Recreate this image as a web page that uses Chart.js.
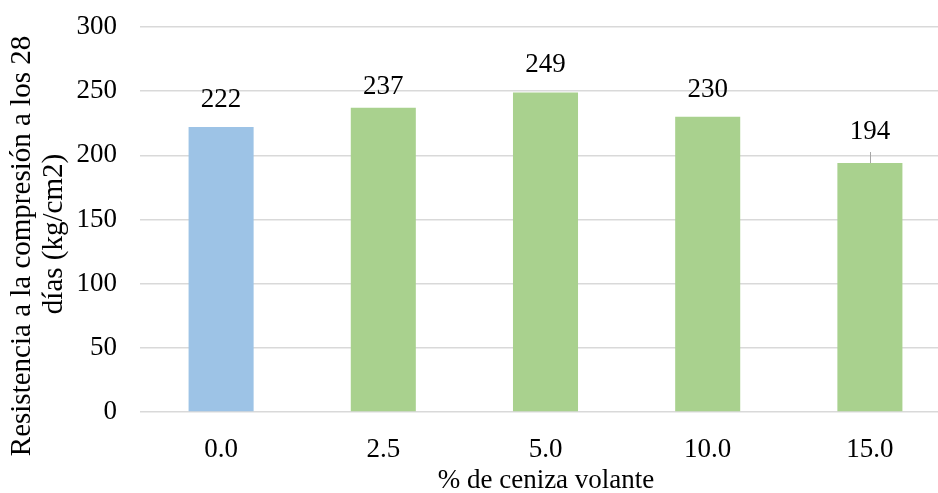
<!DOCTYPE html>
<html>
<head>
<meta charset="utf-8">
<script src="https://cdn.jsdelivr.net/npm/chart.js@4/dist/chart.umd.min.js"></script>
<style>
  html, body { margin: 0; padding: 0; background: #fff; overflow: hidden; }
  #wrap { position: relative; width: 938px; height: 493px; overflow: hidden; }
  canvas { position: absolute; left: 0; top: 0; }
</style>
</head>
<body>
<div id="wrap"><canvas id="c" width="952" height="493"></canvas></div>
<script>
// Compressive strength at 28 days by fly-ash content
const categories = ['0.0', '2.5', '5.0', '10.0', '15.0'];
const strength = [222, 237, 249, 230, 194];
const yTicks = [0, 50, 100, 150, 200, 250, 300];

const xTitle = '% de ceniza volante';
const yTitleLines = ['Resistencia a la compresión a los 28', 'días (kg/cm2)'];

const barColors = ['#9DC3E6', '#A9D18E', '#A9D18E', '#A9D18E', '#A9D18E'];
// distance from bar top to label centre, px
const labelLift = [27, 21, 28, 27, 31];

const FONT = "'Liberation Serif', 'Times New Roman', serif";
const SIZE = 27;
const YTITLE_SIZE = 29;

const valueLabels = {
  id: 'valueLabels',
  afterDatasetsDraw(chart) {
    const { ctx } = chart;
    const meta = chart.getDatasetMeta(0);
    ctx.save();
    ctx.font = SIZE + 'px ' + FONT;
    ctx.fillStyle = '#000';
    ctx.textAlign = 'center';
    ctx.textBaseline = 'middle';
    meta.data.forEach((bar, i) => {
      const cy = bar.y - labelLift[i];
      ctx.fillText(String(strength[i]), bar.x, cy);
      if (labelLift[i] > 29) {
        // leader line from label to bar
        ctx.strokeStyle = '#A6A6A6';
        ctx.lineWidth = 1;
        ctx.beginPath();
        ctx.moveTo(Math.round(bar.x) + 0.5, cy + 20);
        ctx.lineTo(Math.round(bar.x) + 0.5, bar.y);
        ctx.stroke();
      }
    });
    ctx.restore();
  }
};

const axisTitles = {
  id: 'axisTitles',
  afterDraw(chart) {
    const { ctx } = chart;
    ctx.save();
    ctx.fillStyle = '#000';
    ctx.textAlign = 'center';
    ctx.textBaseline = 'middle';
    ctx.font = SIZE + 'px ' + FONT;
    ctx.fillText(xTitle, 546, 481);
    ctx.font = YTITLE_SIZE + 'px ' + FONT;
    const pos = [[22, 246], [54, 234]];
    yTitleLines.forEach((line, i) => {
      ctx.save();
      ctx.translate(pos[i][0], pos[i][1]);
      ctx.rotate(-Math.PI / 2);
      ctx.fillText(line, 0, 0);
      ctx.restore();
    });
    ctx.restore();
  }
};

new Chart(document.getElementById('c'), {
  type: 'bar',
  data: {
    labels: categories,
    datasets: [{
      data: strength,
      backgroundColor: barColors,
      borderWidth: 0,
      barPercentage: 1,
      categoryPercentage: 0.401
    }]
  },
  options: {
    responsive: false,
    animation: false,
    devicePixelRatio: 1,
    layout: { padding: { top: 27, right: 1, left: 0, bottom: 0 } },
    plugins: { legend: { display: false }, tooltip: { enabled: false } },
    scales: {
      x: {
        grid: { display: false },
        border: { display: false },
        ticks: { color: '#000', font: { family: FONT, size: SIZE }, padding: 14 },
        afterFit(s) { s.height = 81; s.paddingLeft = 0; s.paddingRight = 0; }
      },
      y: {
        min: 0,
        max: 300,
        afterBuildTicks(s) { s.ticks = yTicks.map(v => ({ value: v })); },
        grid: { color: '#D9D9D9', lineWidth: 1.5, drawTicks: false },
        border: { display: false },
        ticks: { color: '#000', font: { family: FONT, size: SIZE }, padding: 23 },
        afterFit(s) { s.width = 140; s.paddingTop = 0; s.paddingBottom = 0; }
      }
    }
  },
  plugins: [valueLabels, axisTitles]
});
</script>
</body>
</html>
